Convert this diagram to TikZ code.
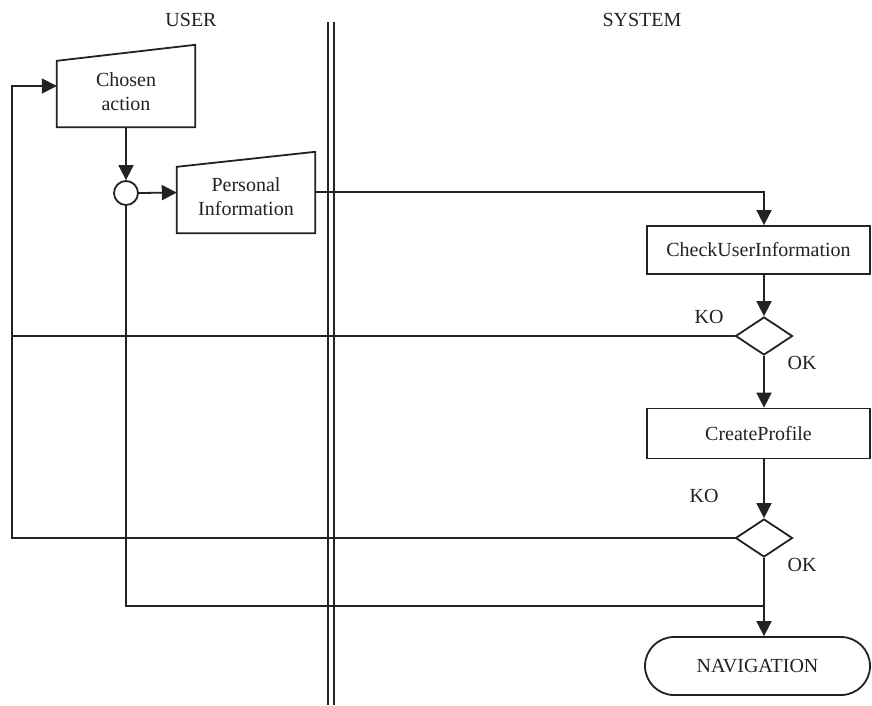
\documentclass[tikz,border=0pt]{standalone}
\usepackage{fontspec}
\setmainfont{Liberation Serif}
\usetikzlibrary{arrows.meta,shapes.geometric,calc}
\definecolor{ink}{HTML}{222222}
\begin{document}
\begin{tikzpicture}[x=1pt,y=-1pt,
  every node/.style={font=\fontsize{20}{24}\selectfont, text=ink},
  wire/.style={draw=ink, line width=1.8pt},
  flow/.style={wire, -{Triangle[length=15pt,width=15pt]}},
  frame/.style={rectangle, inner sep=0pt},
  procbox/.style={draw=ink, line width=1.8pt, rectangle, inner sep=0pt,
                  minimum width=223pt, minimum height=48pt},
  decision/.style={draw=ink, line width=1.8pt, diamond, inner sep=0pt,
                   minimum width=57pt, minimum height=38pt},
  tag/.style={inner sep=0pt}
]
\fill[white] (0,0) rectangle (872,705);
\useasboundingbox (0,0) rectangle (872,705);

% swimlane headers and the double lane separator
\node[tag] (userlane) at (191,20) {USER};
\node[tag] (syslane) at (642,20) {SYSTEM};
\coordinate (sepA) at (328,22);
\coordinate (sepB) at (334,22);
\draw[draw=ink, line width=1.6pt] (sepA) -- (sepA |- 0,705);
\draw[draw=ink, line width=1.6pt] (sepB) -- (sepB |- 0,705);

% manual-input shapes (slanted top edge)
\node[frame, minimum width=138pt, minimum height=82pt] (chosen) at (126,86) {};
\draw[wire] (chosen.south west) -- (chosen.south east) -- (chosen.north east)
  -- ($(chosen.north west)+(0,16)$) -- cycle;
\node[align=center, inner sep=0pt] (chosentxt) at (126,92) {Chosen\\action};

\node[frame, minimum width=138pt, minimum height=81pt] (pinfo) at (246,192.5) {};
\draw[wire] (pinfo.south west) -- (pinfo.south east) -- (pinfo.north east)
  -- ($(pinfo.north west)+(0,15)$) -- cycle;
\node[align=center, inner sep=0pt] (pinfotxt) at (246,197) {Personal\\Information};

% merge point
\node[circle, draw=ink, line width=1.8pt, minimum size=24pt, inner sep=0pt]
  (merge) at (126,193) {};

% system side
\node[procbox] (check) at (758.5,250) {CheckUserInformation};
\node[decision] (d1) at (764,336) {};
\node[procbox, minimum height=50pt] (create) at (758.5,433.5) {CreateProfile};
\node[decision] (d2) at (764,538) {};
\node[draw=ink, line width=1.8pt, rectangle, rounded corners=29pt,
      minimum width=225pt, minimum height=58pt, inner sep=0pt]
  (nav) at (757.5,666) {NAVIGATION};

% branch labels
\node[tag] (ko1) at (709,317) {KO};
\node[tag] (ok1) at (802,363) {OK};
\node[tag] (ko2) at (704,496) {KO};
\node[tag] (ok2) at (802,565) {OK};

% routing points
\coordinate (turn1) at (764,192);
\coordinate (rail) at (12,86);
\coordinate (join) at (764,606);

% connectors
\draw[flow] (chosen.south) -- (merge.north);
\draw[flow] (merge.east) -- (pinfo.west);
\draw[flow] (pinfo.east |- turn1) -- (turn1) -- (check.north -| turn1);
\draw[flow] (check.south -| d1) -- (d1.north);
\draw[flow] (d1.south) -- (create.north -| d1);
\draw[flow] (create.south -| d2) -- (d2.north);
\draw[wire] (d1.west) -- (d1.west -| rail);
\draw[flow] (d2.west) -- (d2.west -| rail) -- (rail) -- (chosen.west);
\draw[wire] (d2.south) -- (join);
\draw[wire] (merge.south) -- (merge.south |- join) -- (join);
\draw[flow] (join) -- (nav.north -| join);
\end{tikzpicture}
\end{document}
